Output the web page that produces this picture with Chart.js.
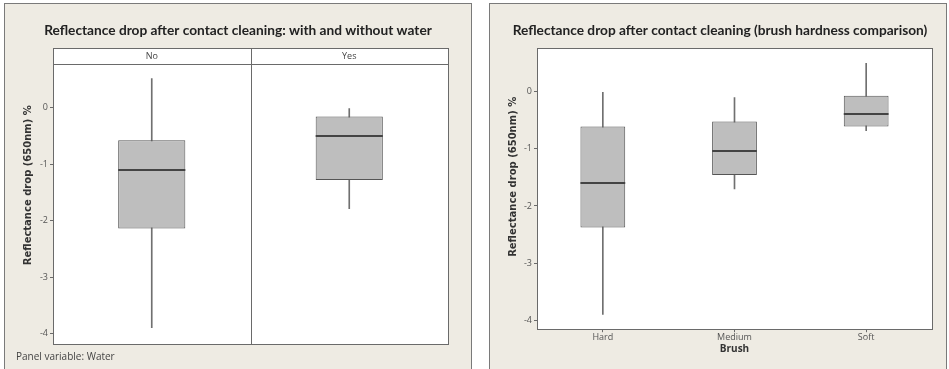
<!DOCTYPE html>
<html>
<head>
<meta charset="utf-8">
<script src="https://cdn.jsdelivr.net/npm/chart.js@4/dist/chart.umd.min.js"></script>
<style>
  html, body { margin: 0; padding: 0; background: #fff; width: 949px; height: 369px; overflow: hidden; }
  .panel { position: absolute; top: 3px; height: 370px; background: #eeebe3; border: 1px solid #7a7a7a; border-bottom: none; }
  #p1 { left: 4px; width: 466px; }
  #p2 { left: 489px; width: 456px; }
  .panel canvas { position: absolute; left: 0; top: 0; }
  #note { position: absolute; left: 11px; top: 345px; font: 10px "Open Sans", sans-serif; color: #444; }
</style>
</head>
<body>
<div class="panel" id="p1"><canvas id="c1" width="466" height="366"></canvas><div id="note">Panel variable: Water</div></div>
<div class="panel" id="p2"><canvas id="c2" width="456" height="366"></canvas></div>
<script>
// Reflectance drop boxplots

// panel 1: water
const waterCats = ['No', 'Yes'];
const waterMin = [-3.89, -1.79];
const waterQ1 = [-2.14, -1.28];
const waterMed = [-1.1, -0.5];
const waterQ3 = [-0.58, -0.16];
const waterMax = [0.51, -0.02];

// panel 2: brush
const brushCats = ['Hard', 'Medium', 'Soft'];
const brushMin = [-3.9, -1.7, -0.68];
const brushQ1 = [-2.38, -1.46, -0.61];
const brushMed = [-1.6, -1.04, -0.39];
const brushQ3 = [-0.61, -0.52, -0.07];
const brushMax = [0.0, -0.1, 0.5];

const yTicks = [0, -1, -2, -3, -4];
const yTitle = 'Reflectance drop (650nm) %';

const EDGE = '#6a6a6a';

// white plot area + frame + median lines + y title
const boxPlugin = {
  id: 'boxStuff',
  beforeDatasetsDraw(chart) {
    const {ctx, chartArea: a} = chart;
    ctx.save();
    ctx.fillStyle = '#fff';
    ctx.fillRect(a.left, a.top, a.right - a.left, a.bottom - a.top);
    ctx.restore();
  },
  afterDatasetsDraw(chart, args, opts) {
    const {ctx, chartArea: a, scales} = chart;
    const meta = chart.getDatasetMeta(0);
    ctx.save();
    ctx.strokeStyle = '#444';
    ctx.lineWidth = 2;
    meta.data.forEach((el, i) => {
      const y = Math.round(scales.y.getPixelForValue(opts.medians[i]));
      ctx.beginPath();
      ctx.moveTo(el.x - el.width / 2, y);
      ctx.lineTo(el.x + el.width / 2, y);
      ctx.stroke();
    });
    // strip header for panel variable
    if (opts.strip) {
      const x0 = scales.x.getPixelForValue(0), x1 = scales.x.getPixelForValue(1);
      const mid = Math.round((x0 + x1) / 2) + 0.5;
      ctx.fillStyle = '#fff';
      ctx.fillRect(a.left, a.top - 16, a.right - a.left, 16);
      ctx.strokeStyle = EDGE;
      ctx.lineWidth = 1;
      ctx.strokeRect(Math.round(a.left) + 0.5, Math.round(a.top) - 15.5, Math.round(a.right - a.left), 16);
      ctx.beginPath();
      ctx.moveTo(mid, a.top - 16);
      ctx.lineTo(mid, a.bottom);
      ctx.stroke();
      ctx.fillStyle = '#444';
      ctx.font = '9px "Open Sans", sans-serif';
      ctx.textAlign = 'center';
      ctx.textBaseline = 'middle';
      chart.data.labels.forEach((l, i) => ctx.fillText(l, scales.x.getPixelForValue(i), a.top - 8));
    }
    ctx.strokeStyle = EDGE;
    ctx.lineWidth = 1;
    ctx.strokeRect(Math.round(a.left) + 0.5, Math.round(a.top) + 0.5, Math.round(a.right - a.left), Math.round(a.bottom - a.top));

    // y axis title (Minitab puts it a bit above centre)
    ctx.translate(opts.titleX, (a.top + a.bottom) / 2 + opts.titleShift);
    ctx.rotate(-Math.PI / 2);
    ctx.fillStyle = '#333';
    ctx.font = 'bold 10px "DejaVu Sans", sans-serif';
    ctx.textAlign = 'center';
    ctx.textBaseline = 'middle';
    ctx.fillText(yTitle, 0, 0);
    ctx.restore();
  }
};

function makeChart(id, cats, lo, q1, med, q3, hi, cfg) {
  const boxData = cats.map((c, i) => [q1[i], q3[i]]);
  const whiskerData = cats.map((c, i) => [lo[i], hi[i]]);
  return new Chart(document.getElementById(id), {
    type: 'bar',
    data: {
      labels: cats,
      datasets: [
        {
          data: boxData,
          backgroundColor: '#bebebe',
          borderColor: '#555',
          borderWidth: 1,
          borderSkipped: false,
          barPercentage: 0.34,
          categoryPercentage: 1,
          grouped: false,
          order: 0
        },
        {
          data: whiskerData,
          backgroundColor: '#707070',
          barThickness: 1,
          grouped: false,
          order: 1
        }
      ]
    },
    options: {
      responsive: false,
      animation: false,
      layout: { padding: cfg.padding },
      plugins: {
        legend: { display: false },
        tooltip: { enabled: false },
        title: {
          display: true,
          text: cfg.title,
          color: '#222',
          font: { family: 'Lato', size: 13.7, weight: 'bold' },
          padding: { top: 18, bottom: cfg.titleGap }
        },
        boxStuff: { medians: med, strip: cfg.strip, titleX: 23, titleShift: cfg.yTitleShift }
      },
      scales: {
        x: {
          display: cfg.showX,
          grid: { display: true, drawOnChartArea: false, tickLength: 3, color: EDGE, offset: false },
          border: { display: false },
          ticks: { color: '#555', font: { family: 'Open Sans', size: 9 }, padding: 0 },
          title: {
            display: cfg.showX,
            text: 'Brush',
            color: '#333',
            font: { family: 'Open Sans', size: 10, weight: 'bold' },
            padding: { top: 0, bottom: 0 }
          }
        },
        y: {
          min: cfg.yMin,
          max: 0.76,
          afterFit: (s) => { s.width = cfg.yWidth; },
          afterBuildTicks: (s) => { s.ticks = yTicks.map(v => ({ value: v })); },
          grid: { drawOnChartArea: false, tickLength: 3, color: EDGE },
          border: { display: false },
          ticks: { color: '#555', font: { family: 'Open Sans', size: 9 }, padding: 2 }
        }
      }
    },
    plugins: [boxPlugin]
  });
}

makeChart('c1', waterCats, waterMin, waterQ1, waterMed, waterQ3, waterMax, {
  title: 'Reflectance drop after contact cleaning: with and without water',
  titleGap: 26,
  strip: true,
  showX: false,
  yMin: -4.18,
  yWidth: 25,
  yTitleShift: -19,
  padding: { left: 23, right: 23, top: 0, bottom: 26 }
});

makeChart('c2', brushCats, brushMin, brushQ1, brushMed, brushQ3, brushMax, {
  title: 'Reflectance drop after contact cleaning (brush hardness comparison)',
  titleGap: 10,
  strip: false,
  showX: true,
  yMin: -4.16,
  yWidth: 29,
  yTitleShift: -12,
  padding: { left: 18, right: 14, top: 0, bottom: 15 }
});
</script>
</body>
</html>
